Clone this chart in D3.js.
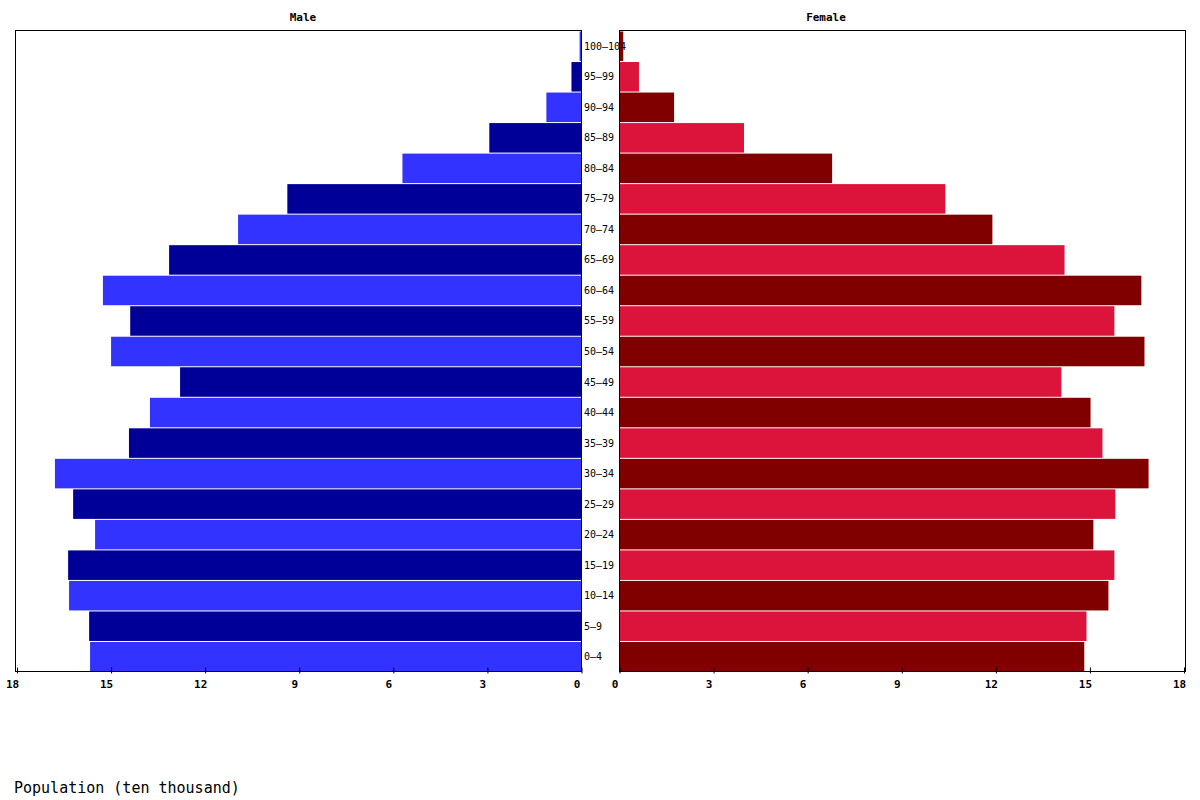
<!DOCTYPE html>
<html>
<head>
<meta charset="UTF-8">
<title>Population pyramid</title>
<style>
  body { margin: 0; background: #fff; }
  text { font-family: "DejaVu Sans Mono", monospace; }
  .tick text { font-size: 11px; font-weight: bold; }
  .age { font-size: 10px; }
  .title { font-size: 11px; font-weight: bold; }
</style>
</head>
<body>
<svg width="1200" height="800"></svg>
<script src="https://d3js.org/d3.v7.min.js"></script>
<script>
// age groups, youngest first
const ages = ["0-4","5-9","10-14","15-19","20-24","25-29","30-34","35-39","40-44","45-49",
  "50-54","55-59","60-64","65-69","70-74","75-79","80-84","85-89","90-94","95-99","100-104"];
// population, ten thousand
const male = [15.67,15.70,16.34,16.37,15.51,16.21,16.79,14.43,13.76,12.80,
  15.00,14.39,15.26,13.15,10.95,9.38,5.71,2.94,1.12,0.32,0.06];
const female = [14.82,14.89,15.59,15.78,15.11,15.81,16.87,15.40,15.02,14.09,
  16.74,15.78,16.64,14.19,11.89,10.39,6.78,3.97,1.74,0.62,0.12];
const tickVals = [0,3,6,9,12,15,18];

const svg = d3.select("svg");
const plotTop = 30.5, plotBottom = 671.5;

const xM = d3.scaleLinear().domain([0, 18]).range([581.5, 17]);
const xF = d3.scaleLinear().domain([0, 18]).range([619.5, 1184]);
const y = d3.scaleBand().domain(ages.slice().reverse()).range([plotTop, plotBottom]).padding(0);

const maleCol = ["#3333ff", "#000099"];
const femaleCol = ["#800000", "#dc143c"];

// bars
svg.append("g").selectAll("rect")
  .data(ages)
  .enter().append("rect")
  .attr("x", (d, i) => xM(male[i]))
  .attr("y", d => y(d) + 1)
  .attr("width", (d, i) => xM(0) - xM(male[i]))
  .attr("height", y.bandwidth() - 1)
  .attr("fill", (d, i) => maleCol[i % 2]);

svg.append("g").selectAll("rect")
  .data(ages)
  .enter().append("rect")
  .attr("x", xF(0))
  .attr("y", d => y(d) + 1)
  .attr("width", (d, i) => xF(female[i]) - xF(0))
  .attr("height", y.bandwidth() - 1)
  .attr("fill", (d, i) => femaleCol[i % 2]);

// panel frames
[[15.5, 581.5], [619.5, 1185.5]].forEach(p => {
  svg.append("rect")
    .attr("x", p[0]).attr("y", plotTop)
    .attr("width", p[1] - p[0]).attr("height", plotBottom - plotTop)
    .attr("fill", "none").attr("stroke", "#000").attr("stroke-width", 1);
});

// axes
function drawAxis(scale) {
  const g = svg.append("g")
    .attr("transform", `translate(0,${plotBottom})`)
    .call(d3.axisBottom(scale).tickValues(tickVals).tickSizeInner(-4).tickSizeOuter(0).tickPadding(8));
  g.select(".domain").remove();
  g.selectAll(".tick line").attr("y2", -4).attr("y1", 2).attr("stroke", "#000");
  g.selectAll(".tick text").attr("fill", "#000").attr("y", 9).attr("dx", -5);
}
drawAxis(xM);
drawAxis(xF);

// age labels
svg.append("g").selectAll("text")
  .data(ages)
  .enter().append("text")
  .attr("class", "age")
  .attr("x", 584)
  .attr("y", d => y(d) + y.bandwidth() / 2 + 1)
  .attr("dominant-baseline", "middle")
  .text(d => d.replace("-", "–"));

// titles
svg.append("text").attr("class", "title").attr("x", 303).attr("y", 21)
  .attr("text-anchor", "middle").text("Male");
svg.append("text").attr("class", "title").attr("x", 826).attr("y", 21)
  .attr("text-anchor", "middle").text("Female");

svg.append("text").attr("x", 14).attr("y", 793)
  .style("font-size", "15px").text("Population (ten thousand)");
</script>
</body>
</html>
